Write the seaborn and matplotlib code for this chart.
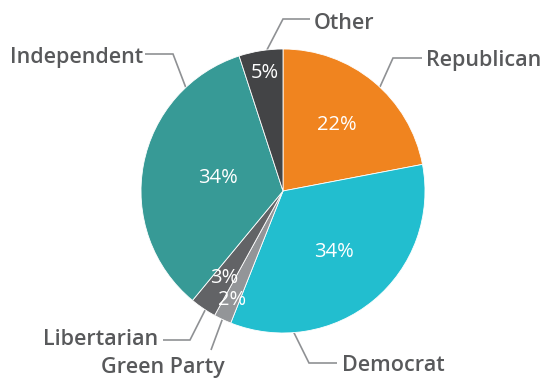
import numpy as np
import matplotlib
matplotlib.use("Agg")
import matplotlib.pyplot as plt
import seaborn as sns

# Party identification shares (percent), clockwise from 12 o'clock
parties = ["Republican", "Democrat", "Green Party", "Libertarian", "Independent", "Other"]
shares = [22, 34, 2, 3, 34, 5]
colors = ["#F0841F", "#22BECF", "#939598", "#626366", "#379A96", "#434446"]

sns.set_theme(style="white")
plt.rcParams["font.family"] = ["Open Sans", "DejaVu Sans"]

W, H = 543, 378
CX, CY, R = 283, 191, 142          # pie centre and radius in pixels

fig = plt.figure(figsize=(W / 100, H / 100), dpi=100)
ax = fig.add_axes([0, 0, 1, 1])

wedges, _ = ax.pie(
    shares, colors=colors, startangle=90, counterclock=False, radius=1,
    wedgeprops=dict(edgecolor="white", linewidth=0.6),
)
ax.set_xlim(-CX / R, (W - CX) / R)
ax.set_ylim(-(H - CY) / R, CY / R)
ax.set_aspect("equal", adjustable="box")
ax.axis("off")


def px(x, y):
    """Convert pixel position to pie data units."""
    return (x - CX) / R, (CY - y) / R


# percentage labels inside the slices (radial fraction of the radius)
pct_radius = [0.60, 0.56, 0.85, 0.74, 0.47, 0.84]
for w, share, rr in zip(wedges, shares, pct_radius):
    mid = np.deg2rad((w.theta1 + w.theta2) / 2)
    ax.text(rr * np.cos(mid), rr * np.sin(mid), f"{share}%", color="white",
            fontsize=14.5, fontweight="medium", ha="center", va="center")

# callouts: edge angle, leader path (pixels), text anchor (pixels), alignment
callouts = {
    "Republican":  (47.0,  [(393, 58), (422, 58)],   (426, 66),  "left"),
    "Democrat":    (-85.6, [(309, 363), (337, 363)], (342, 371), "left"),
    "Green Party": (-115.3, [(211, 350)],            (225, 373), "right"),
    "Libertarian": (-123.2, [(190, 340), (163, 340)], (158, 345), "right"),
    "Independent": (133.2, [(173, 54), (145, 54)],   (143, 63),  "right"),
    "Other":       (96.5,  [(283, 19), (310, 19)],   (314, 29),  "left"),
}
for name in parties:
    ang, path, (tx, ty), ha = callouts[name]
    a = np.deg2rad(ang)
    xs = [np.cos(a)] + [px(*p)[0] for p in path]
    ys = [np.sin(a)] + [px(*p)[1] for p in path]
    ax.plot(xs, ys, color="#8F9194", lw=1.2, solid_joinstyle="miter",
            solid_capstyle="butt", zorder=0)
    x, y = px(tx, ty)
    ax.text(x, y, name, color="#58595B", fontsize=15.5, fontweight="semibold",
            ha=ha, va="baseline")

fig.savefig("out.png", dpi=100, facecolor="white")
